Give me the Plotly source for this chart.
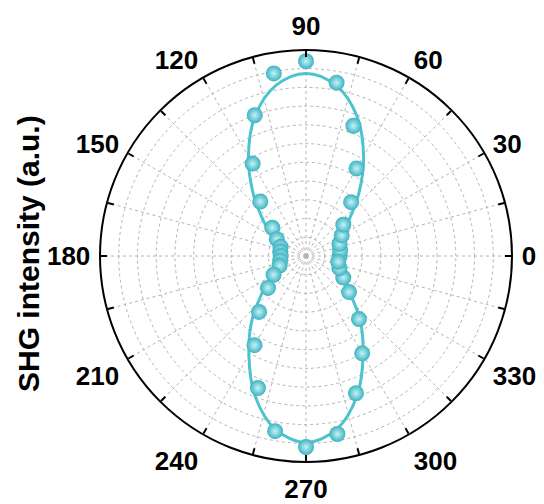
import plotly.graph_objects as go

# Measured points (angle in degrees, SHG intensity in grid units)
data_theta = [0, 10, 20, 30, 40, 50, 60, 70, 80, 90, 100, 110, 120, 130, 140, 150, 160, 170,
              180, 190, 200, 210, 220, 230, 240, 250, 260, 270, 280, 290, 300, 310, 320, 330, 340, 350]
data_r = [1.8, 1.85, 1.9, 2.2, 2.6, 3.75, 5.4, 7.4, 9.4, 10.4, 9.9, 8.0, 5.7, 3.8, 2.35, 1.8, 1.45, 1.4,
          1.35, 1.4, 1.5, 2.0, 2.65, 3.9, 5.5, 7.5, 9.5, 10.2, 9.65, 7.8, 6.0, 4.4, 3.0, 2.3, 1.9, 1.75]

# Fitted curve
fit_theta = [0, 10, 20, 30, 40, 50, 60, 70, 80, 90, 100, 110, 120, 130, 140, 150, 160, 170, 180,
             190, 200, 210, 220, 230, 240, 250, 260, 270, 280, 290, 300, 310, 320, 330, 340, 350, 360]
fit_r = [1.6, 1.62, 1.72, 2.1, 3.0, 4.4, 6.15, 7.95, 9.25, 9.75, 9.25, 7.95, 6.15, 4.4, 3.0, 2.1, 1.72, 1.62, 1.6,
         1.63, 1.75, 2.15, 3.05, 4.5, 6.1, 7.95, 9.4, 9.95, 9.4, 7.95, 6.1, 4.5, 3.05, 2.15, 1.75, 1.63, 1.6]

tick_vals = list(range(0, 360, 15))
tick_text = [str(v) if v % 30 == 0 else "" for v in tick_vals]
y_title = "SHG intensity (a.u.)"
r_range = [0, 11]

W, H = 536, 496
ml, mr, mt, mb = 92, 32, 42, 42
FONT = "Liberation Sans, Arial, sans-serif"

fig = go.Figure()
fig.add_trace(go.Scatterpolar(
    r=fit_r, theta=fit_theta, mode="lines", subplot="polar",
    line=dict(color="#4cc4cd", width=3, shape="spline", smoothing=1.0),
    hoverinfo="skip", showlegend=False))
fig.add_trace(go.Scatterpolar(
    r=data_r, theta=data_theta, mode="markers", subplot="polar",
    marker=dict(size=16, color="#3db3c0",
                gradient=dict(type="radial", color="#c4f2f6"),
                line=dict(width=0)),
    showlegend=False))
# invisible companion trace so the label-only overlay subplot is drawn
fig.add_trace(go.Scatterpolar(
    r=data_r, theta=data_theta, mode="markers", subplot="polar2",
    marker=dict(size=1, opacity=0), hoverinfo="skip", showlegend=False))

fig.update_layout(
    width=W, height=H,
    margin=dict(l=ml, r=mr, t=mt, b=mb),
    paper_bgcolor="white",
    font=dict(family=FONT, color="black"),
    polar=dict(
        bgcolor="white",
        domain=dict(x=[0, 1], y=[0, 1]),
        radialaxis=dict(range=r_range, dtick=1, showticklabels=False, ticks="",
                        showline=False, gridcolor="#b4b4b4", gridwidth=1, griddash="dot"),
        angularaxis=dict(tickmode="array", tickvals=tick_vals, ticktext=tick_text,
                         direction="counterclockwise", rotation=0,
                         ticks="inside", ticklen=6, tickwidth=1.5, tickcolor="black",
                         showticklabels=False,
                         showline=True, linecolor="black", linewidth=2,
                         gridcolor="#b4b4b4", gridwidth=1, griddash="dot"),
    ),
    polar2=dict(
        bgcolor="rgba(0,0,0,0)",
        domain=dict(x=[0, 1], y=[0, 1]),
        radialaxis=dict(range=r_range, visible=False, showgrid=False),
        angularaxis=dict(tickmode="array", tickvals=tick_vals, ticktext=tick_text,
                         direction="counterclockwise", rotation=0,
                         ticks="outside", ticklen=4, tickcolor="rgba(0,0,0,0)",
                         showline=False, showgrid=False,
                         tickfont=dict(size=26, family=FONT, color="black", weight="bold")),
    ),
    annotations=[dict(
        text="<b>" + y_title + "</b>", textangle=-90,
        xref="paper", yref="paper",
        x=(20 - ml) / (W - ml - mr), y=(H - 246 - mb) / (H - mt - mb),
        xanchor="center", yanchor="middle", showarrow=False,
        font=dict(size=30, family=FONT, color="black"))],
)

fig.write_html("out.html")
